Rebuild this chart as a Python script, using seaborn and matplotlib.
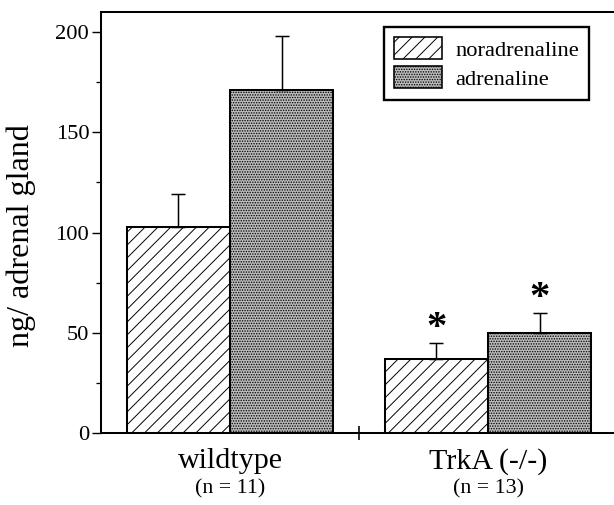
import pandas as pd
import numpy as np
import matplotlib.pyplot as plt
import seaborn as sns

# ── Data ──────────────────────────────────────────────────────────────────────
groups = ["wildtype", "TrkA (-/-)"]
group_n = ["(n = 11)", "(n = 13)"]
substances = ["noradrenaline", "adrenaline"]
noradrenaline = [103, 37]
adrenaline = [171, 50]
noradrenaline_sem = [16, 8]
adrenaline_sem = [27, 10]
significant = [[False, True], [False, True]]  # [substance][group]

df = pd.DataFrame({
    "group": groups * 2,
    "substance": [substances[0]] * 2 + [substances[1]] * 2,
    "value": noradrenaline + adrenaline,
})
sems = [noradrenaline_sem, adrenaline_sem]

# ── Style ─────────────────────────────────────────────────────────────────────
sns.set_style("ticks")
plt.rcParams["font.family"] = ["Liberation Serif", "DejaVu Serif"]
plt.rcParams["hatch.linewidth"] = 0.9
for key in ["text.color", "axes.labelcolor", "xtick.color", "ytick.color"]:
    plt.rcParams[key] = "black"

DPI = 77
fig = plt.figure(figsize=(614 / DPI, 505 / DPI), dpi=DPI)
ax = fig.add_axes([101 / 614, 1 - 433 / 505, 1 - 101 / 614, (433 - 12) / 505])

sns.barplot(data=df, x="group", y="value", hue="substance", order=groups,
            hue_order=substances, palette=["white", "#bcbcbc"],
            edgecolor="black", linewidth=1.9, errorbar=None, width=0.8,
            ax=ax, legend=True)

hatches = ["//", "....."]
bar_containers = list(ax.containers)
for i, cont in enumerate(bar_containers):
    xs, tops = [], []
    for bar in cont:
        bar.set_hatch(hatches[i])
        xs.append(bar.get_x() + bar.get_width() / 2)
        tops.append(bar.get_height())
    ax.errorbar(xs, tops, yerr=[np.zeros(len(tops)), sems[i]], fmt="none",
                ecolor="black", elinewidth=1.4, capsize=7, capthick=1.4,
                zorder=1)
    for x, t, s, sig in zip(xs, tops, sems[i], significant[i]):
        if sig:
            ax.text(x, t + s + 7, "*", ha="center", va="center",
                    fontsize=38, fontweight="bold")

ax.set_ylim(0, 210)
ax.set_xlim(-0.5, 1.488)
ax.set_yticks([0, 50, 100, 150, 200])
ax.set_yticks([25, 75, 125, 175], minor=True)
ax.tick_params(axis="y", which="major", length=8, width=1.3, labelsize=21, pad=3)
ax.tick_params(axis="y", which="minor", length=5, width=1.2)
ax.set_xticks([0, 1])
ax.set_xticklabels(groups)
ax.set_xticks([0.5], minor=True)
ax.tick_params(axis="x", which="major", length=0, labelsize=28, pad=14)
ax.tick_params(axis="x", which="minor", length=14, width=1.5, direction="inout")
for i, n in enumerate(group_n):
    ax.text(i, -0.11, n, transform=ax.get_xaxis_transform(), ha="center",
            va="top", fontsize=20.5)

ax.set_xlabel("")
ax.set_ylabel("ng/ adrenal gland", fontsize=30)
ax.yaxis.set_label_coords(-0.127, 0.47)

for side in ["left", "bottom", "top"]:
    ax.spines[side].set_linewidth(1.9)
    ax.spines[side].set_color("black")
ax.spines["right"].set_visible(False)

leg = ax.legend(loc="upper right", bbox_to_anchor=(0.951, 0.964),
                borderaxespad=0, fontsize=21, frameon=True, fancybox=False,
                framealpha=1, edgecolor="black", handlelength=2.1,
                handleheight=1.1, handletextpad=0.6, labelspacing=0.25,
                borderpad=0.45, title=None)
leg.get_frame().set_linewidth(2.2)
for h, hatch in zip(leg.legend_handles, hatches):
    h.set_hatch(hatch)
    h.set_edgecolor("black")
    h.set_linewidth(1.5)

plt.savefig("out.png", dpi=DPI)
plt.close()
